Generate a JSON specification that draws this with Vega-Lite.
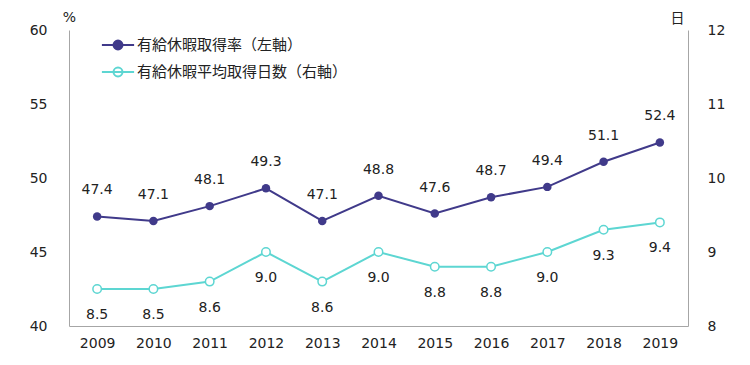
{
  "$schema": "https://vega.github.io/schema/vega-lite/v6.json",
  "autosize": {"type": "none"},
  "width": 619,
  "height": 296,
  "padding": {"left": 69, "top": 30, "right": 62, "bottom": 39},
  "background": "white",
  "config": {
    "view": {"stroke": null},
    "font": "DejaVu Sans",
    "axis": {"grid": false, "ticks": false, "domainColor": "#a6a6a6", "domainWidth": 1, "labelFontSize": 14, "labelColor": "#222222", "labelFont": "DejaVu Sans", "titleFontSize": 14, "titleFontWeight": "normal", "titleColor": "#222222"}
  },
  "data": {
    "values": [
      {"year": "2009", "rate": 47.4, "days": 8.5},
      {"year": "2010", "rate": 47.1, "days": 8.5},
      {"year": "2011", "rate": 48.1, "days": 8.6},
      {"year": "2012", "rate": 49.3, "days": 9.0},
      {"year": "2013", "rate": 47.1, "days": 8.6},
      {"year": "2014", "rate": 48.8, "days": 9.0},
      {"year": "2015", "rate": 47.6, "days": 8.8},
      {"year": "2016", "rate": 48.7, "days": 8.8},
      {"year": "2017", "rate": 49.4, "days": 9.0},
      {"year": "2018", "rate": 51.1, "days": 9.3},
      {"year": "2019", "rate": 52.4, "days": 9.4}
    ]
  },
  "encoding": {
    "x": {"field": "year", "type": "ordinal", "scale": {"type": "point", "padding": 0.5}, "axis": {"title": null, "labelAngle": 0, "labelPadding": 10}}
  },
  "layer": [
    {
      "encoding": {
        "y": {"field": "rate", "type": "quantitative", "scale": {"domain": [40, 60]}, "axis": {"orient": "left", "values": [40, 45, 50, 55, 60], "labelPadding": 22, "title": "%", "titleAngle": 0, "titleX": 0, "titleY": -13, "titleAlign": "center", "titleBaseline": "middle"}}
      },
      "layer": [
        {"mark": {"type": "line", "strokeWidth": 2}, "encoding": {"color": {"datum": "有給休暇取得率（左軸）", "type": "nominal", "scale": {"domain": ["有給休暇取得率（左軸）", "有給休暇平均取得日数（右軸）"], "range": ["#403a8a", "#5dd6d2"]}, "legend": {"orient": "none", "legendX": 34, "legendY": 0, "padding": 0, "title": null, "direction": "vertical", "symbolType": "M-1.15,0H1.15M-0.32,0A0.32,0.32 0 1,0 0.32,0A0.32,0.32 0 1,0 -0.32,0Z", "symbolSize": 784, "symbolStrokeWidth": 2, "labelFont": "Noto Sans CJK JP", "labelFontSize": 15, "labelColor": "#222222", "labelOffset": 4, "labelLimit": 0, "rowPadding": 3, "encode": {"symbols": {"update": {"fill": {"signal": "datum.value === '有給休暇取得率（左軸）' ? '#403a8a' : 'white'"}, "fillOpacity": {"value": 1}}}}}}}},
        {"mark": {"type": "point", "filled": true, "size": 72, "color": "#403a8a", "opacity": 1}},
        {"mark": {"type": "text", "dy": -26, "fontSize": 14, "color": "#222222", "baseline": "middle"}, "encoding": {"text": {"field": "rate", "type": "quantitative", "format": ".1f"}}}
      ]
    },
    {
      "encoding": {
        "y": {"field": "days", "type": "quantitative", "scale": {"domain": [8, 12]}, "axis": {"orient": "right", "values": [8, 9, 10, 11, 12], "labelPadding": 19, "title": "日", "titleFont": "Noto Sans CJK JP", "titleAngle": 0, "titleX": -11, "titleY": -12, "titleAlign": "center", "titleBaseline": "middle"}}
      },
      "layer": [
        {"mark": {"type": "line", "strokeWidth": 2}, "encoding": {"color": {"datum": "有給休暇平均取得日数（右軸）", "type": "nominal"}}},
        {"mark": {"type": "point", "filled": false, "fill": "white", "fillOpacity": 1, "size": 72, "stroke": "#5dd6d2", "strokeWidth": 1.5, "opacity": 1}},
        {"mark": {"type": "text", "dy": 26, "fontSize": 14, "color": "#222222", "baseline": "middle"}, "encoding": {"text": {"field": "days", "type": "quantitative", "format": ".1f"}}}
      ]
    }
  ],
  "resolve": {"scale": {"y": "independent"}}
}
